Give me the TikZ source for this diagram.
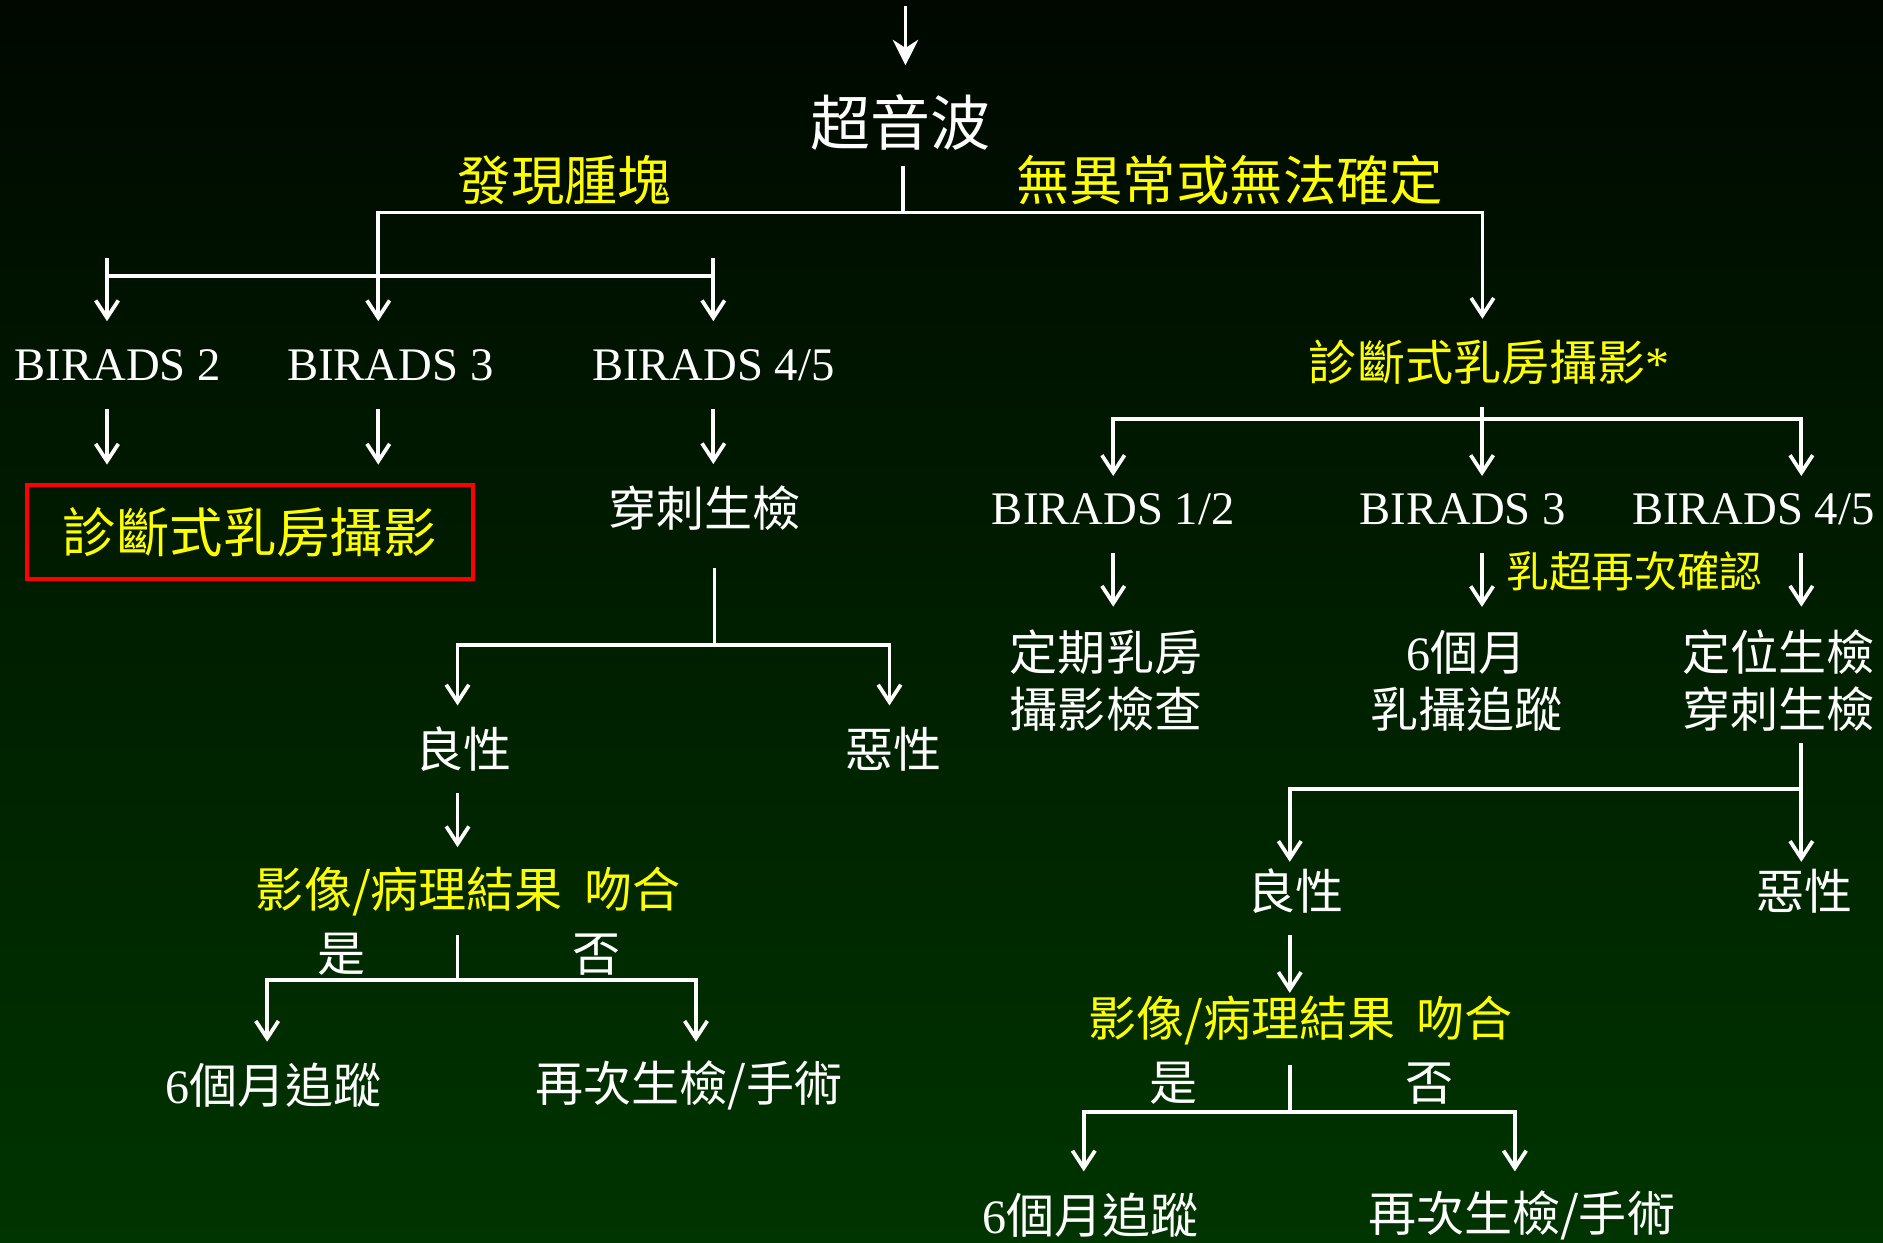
\documentclass[tikz,border=0pt]{standalone}
\usepackage{fontspec}
\setmainfont{Liberation Serif}
\newfontfamily\cjk{Noto Sans CJK TC}
\usetikzlibrary{arrows.meta}
\definecolor{bgtop}{RGB}{0,8,0}
\definecolor{bgbot}{RGB}{0,52,0}
\definecolor{hiyel}{RGB}{255,255,0}
\definecolor{boxred}{RGB}{255,0,0}
\begin{document}
\begin{tikzpicture}[x=0.9pt,y=-0.9pt,line width=2.8pt,white,
        arr/.style={-{Straight Barb[length=13pt,width=17pt]}},
        tarr/.style={-{Stealth[length=19pt,width=19pt,inset=6pt]}},
        wt/.style={text=white,inner sep=0pt,minimum height=63pt,align=center,font=\cjk\fontsize{36}{43}\selectfont},
        yt/.style={wt,text=hiyel},
        bigyt/.style={yt,font=\cjk\fontsize{40}{44}\selectfont},
        bir/.style={wt,font=\rmfamily\fontsize{35}{40}\selectfont}]
        \useasboundingbox (0,0) rectangle (1568,1035);
        \shade[top color=bgtop,bottom color=bgbot] (0,0) rectangle (1568,1035);

        \node[wt,font=\cjk\fontsize{45}{50}\selectfont] (us) at (750,102) {超音波};
        \node[bigyt] (lfind) at (470,150) {發現腫塊};
        \node[bigyt] (lnone) at (1024,150) {無異常或無法確定};

        \node[bir] (b2) at (98,304) {BIRADS 2};
        \node[bir] (b3) at (325,304) {BIRADS 3};
        \node[bir] (b45) at (594,304) {BIRADS 4/5};
        \node[bigyt,draw=boxred,line width=3pt,minimum width=334pt,minimum height=70pt] (mam) at (208,443) {診斷式乳房攝影};
        \node[wt] (bx) at (587,423) {穿刺生檢};
        \node[wt] (gl) at (386,624) {良性};
        \node[wt] (ml) at (744,624) {惡性};
        \node[yt] (rl) at (390,742) {影像/病理結果\hspace{0.45em}吻合};
        \node[wt] (yl) at (284,795) {是};
        \node[wt] (nl) at (497,795) {否};
        \node[wt] (fl) at (228,904) {{\rmfamily 6}個月追蹤};
        \node[wt] (sl) at (574,904) {再次生檢/手術};

        \node[yt] (dm) at (1240,302) {診斷式乳房攝影{\rmfamily *}};
        \node[bir] (r12) at (927,424) {BIRADS 1/2};
        \node[bir] (r3) at (1218,424) {BIRADS 3};
        \node[bir] (r45) at (1460,424) {BIRADS 4/5};
        \node[yt,font=\cjk\fontsize{32}{36}\selectfont] (rc) at (1361,476) {乳超再次確認};
        \node[wt] (pm) at (921,567) {定期乳房\\攝影檢查};
        \node[wt] (f6) at (1221,567) {{\rmfamily 6}個月\\乳攝追蹤};
        \node[wt] (lb) at (1481,567) {定位生檢\\穿刺生檢};
        \node[wt] (gr) at (1079,742) {良性};
        \node[wt] (mr) at (1503,742) {惡性};
        \node[yt] (rr) at (1083,850) {影像/病理結果\hspace{0.45em}吻合};
        \node[wt] (yr) at (977,902) {是};
        \node[wt] (nr) at (1190,902) {否};
        \node[wt] (fr) at (908,1012) {{\rmfamily 6}個月追蹤};
        \node[wt] (sr) at (1267,1012) {再次生檢/手術};

        \coordinate (top) at (754,5);
        \coordinate (j0) at (752,177);
        \coordinate (j1) at (315,230);
        \coordinate (s1) at (315,215);
        \coordinate (j2) at (595,537);
        \coordinate (j3) at (381,816);
        \coordinate (j4) at (1234,349);
        \coordinate (j5) at (1500,657);
        \coordinate (j6) at (1074,926);
        \coordinate (c2) at ([xshift=-8pt]b2.north);
        \coordinate (c3) at ([xshift=-9pt]b3.north);
        \coordinate (c5) at ([xshift=-4.5pt]gl.south);
        \coordinate (c8) at ([xshift=14.5pt]r3.north);
        \coordinate (c9) at ([xshift=36pt]r45.north);
        \coordinate (c10) at ([xshift=-4.5pt]gr.south);

        \draw[tarr,shorten >=10pt] (top) -- (top |- us.north);
        \draw (j0 |- us.south) -- (j0);
        \draw[arr] (j0) -| (c3);
        \draw[arr] (j0) -| ([xshift=-5pt]dm.north);

        \draw (c2 |- j1) -- (b45.north |- j1);
        \draw[arr] (c2 |- s1) -- (c2);
        \draw[arr] (b45.north |- s1) -- (b45.north);
        \draw[arr,shorten >=14pt] (c2 |- b2.south) -- (c2 |- mam.north);
        \draw[arr,shorten >=14pt] (c3 |- b3.south) -- (c3 |- mam.north);
        \draw[arr] (b45) -- (b45 |- bx.north);
        \draw[shorten <=12pt] (j2 |- bx.south) -- (j2);
        \draw[arr] (j2) -| ([xshift=-4.5pt]gl.north);
        \draw[arr] (j2) -| ([xshift=-3pt]ml.north);
        \draw[arr] (c5) -- (c5 |- rl.north);
        \draw (j3 |- rl.south) -- (j3);
        \draw[arr] (j3) -| ([xshift=-5pt]fl.north);
        \draw[arr] (j3) -| ([xshift=5pt]sl.north);

        \draw[arr,shorten >=-8pt] (c8 |- dm.south) -- (c8);
        \draw[arr,shorten >=-8pt] (j4) -| (r12.north);
        \draw[arr,shorten >=-8pt] (j4) -| (c9);
        \draw[arr,shorten >=16pt] (r12) -- (r12 |- pm.north);
        \draw[arr,shorten >=16pt] (c8 |- r3.south) -- (c8 |- f6.north);
        \draw[arr,shorten >=16pt] (c9 |- r45.south) -- (c9 |- lb.north);
        \draw[arr,shorten <=7pt,shorten >=-11pt] (c9 |- lb.south) -- (c9 |- mr.north);
        \draw[arr,shorten >=-11pt] (j5) -| ([xshift=-4.5pt]gr.north);
        \draw[arr,shorten >=-12pt] (c10) -- (c10 |- rr.north);
        \draw (j6 |- rr.south) -- (j6);
        \draw[arr] (j6) -| ([xshift=-5pt]fr.north);
        \draw[arr] (j6) -| ([xshift=-5pt]sr.north);
\end{tikzpicture}
\end{document}
